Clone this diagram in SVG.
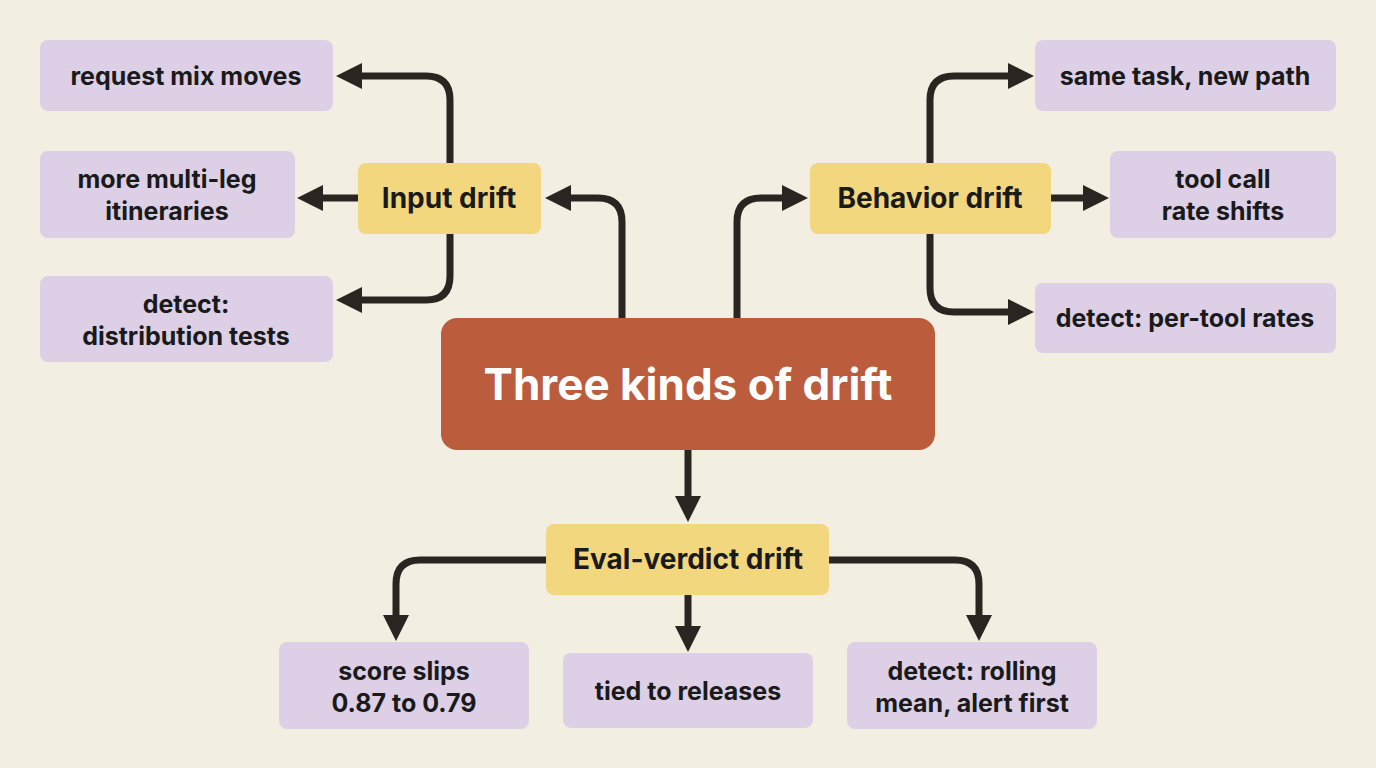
<svg xmlns="http://www.w3.org/2000/svg" width="1376" height="768" viewBox="0 0 1376 768">
<style>
.c{fill:none;stroke:#2a2520;stroke-width:7;marker-end:url(#a)}
.p{fill:#dccfe6}
.y{fill:#f2d77e}
text{font-family:Inter,"Noto Sans","Liberation Sans",sans-serif;font-weight:700;fill:#1a1a1a;text-anchor:middle}
.t{font-size:25px}
.h{font-size:28px}
</style>
<defs><marker id="a" markerUnits="userSpaceOnUse" markerWidth="28" markerHeight="28" refX="10" refY="13" orient="auto"><path d="M0,0 L26,13 L0,26 z" fill="#2a2520"/></marker></defs>
<rect width="1376" height="768" fill="#f2eee2"/>
<g id="connectors">
<path class="c" d="M622,318 V222 Q622,198 598,198 H561"/>
<path class="c" d="M737,318 V222 Q737,198 761,198 H792"/>
<path class="c" d="M688,450 V506"/>
<path class="c" d="M450,163 V100 Q450,76 426,76 H352"/>
<path class="c" d="M358,198 H313"/>
<path class="c" d="M450,234 V276 Q450,300 426,300 H352"/>
<path class="c" d="M930,163 V100 Q930,76 954,76 H1018"/>
<path class="c" d="M1051,198 H1093"/>
<path class="c" d="M930,234 V288 Q930,312 954,312 H1018"/>
<path class="c" d="M546,560 H420 Q396,560 396,584 V625"/>
<path class="c" d="M688,595 V636"/>
<path class="c" d="M829,560 H955 Q979,560 979,584 V625"/>
</g>
<g id="center"><rect x="441" y="318" width="494" height="132" rx="16" fill="#bb5c3c"/><text x="688" y="400" style="font-size:44px;fill:#fff">Three kinds of drift</text></g>
<g id="input"><rect class="y" x="358" y="163" width="183" height="71" rx="8"/><text class="h" x="449" y="208">Input drift</text></g>
<g id="behavior"><rect class="y" x="810" y="163" width="241" height="71" rx="8"/><text class="h" x="930" y="208">Behavior drift</text></g>
<g id="eval"><rect class="y" x="546" y="524" width="283" height="71" rx="8"/><text class="h" x="688" y="569">Eval-verdict drift</text></g>
<g id="n1"><rect class="p" x="40" y="40" width="293" height="71" rx="8"/><text class="t" x="186" y="85">request mix moves</text></g>
<g id="n2"><rect class="p" x="40" y="151" width="255" height="87" rx="8"/><text class="t" x="167" y="188">more multi-leg</text><text class="t" x="167" y="220">itineraries</text></g>
<g id="n3"><rect class="p" x="40" y="276" width="293" height="86" rx="8"/><text class="t" x="186" y="313">detect:</text><text class="t" x="186" y="345">distribution tests</text></g>
<g id="n4"><rect class="p" x="1035" y="40" width="301" height="71" rx="8"/><text class="t" x="1185" y="85">same task, new path</text></g>
<g id="n5"><rect class="p" x="1110" y="151" width="226" height="87" rx="8"/><text class="t" x="1223" y="188">tool call</text><text class="t" x="1223" y="220">rate shifts</text></g>
<g id="n6"><rect class="p" x="1035" y="283" width="301" height="70" rx="8"/><text class="t" x="1185" y="327">detect: per-tool rates</text></g>
<g id="n7"><rect class="p" x="279" y="642" width="250" height="87" rx="8"/><text class="t" x="404" y="680">score slips</text><text class="t" x="404" y="712">0.87 to 0.79</text></g>
<g id="n8"><rect class="p" x="563" y="653" width="250" height="75" rx="8"/><text class="t" x="688" y="700">tied to releases</text></g>
<g id="n9"><rect class="p" x="847" y="642" width="250" height="87" rx="8"/><text class="t" x="972" y="680">detect: rolling</text><text class="t" x="972" y="712">mean, alert first</text></g>
</svg>
